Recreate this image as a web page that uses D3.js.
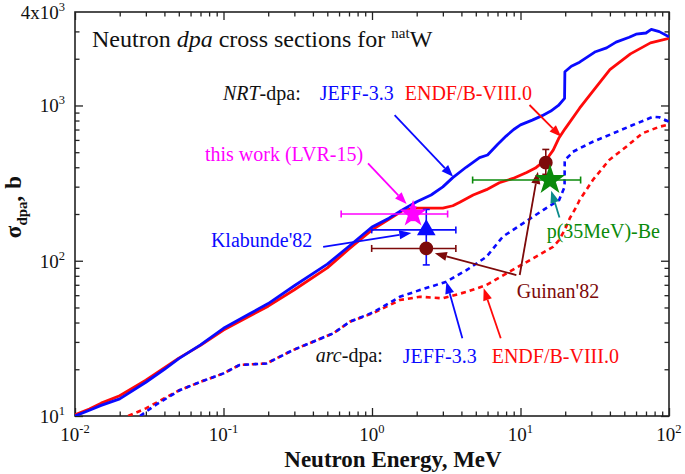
<!DOCTYPE html>
<html><head><meta charset="utf-8">
<script src="https://cdn.jsdelivr.net/npm/d3@7/dist/d3.min.js"></script>
<style>body{margin:0;background:#fff}svg{display:block;font-family:"Liberation Serif","Times New Roman",serif}</style>
</head><body><svg id="c" width="685" height="474"></svg>
<script>
// ---------- data (energy MeV, cross section b) ----------
const nrtJeff = [[0.01,10],[0.0125,10.9],[0.015,11.7],[0.02,12.9],[0.03,16.5],[0.04,20],[0.05,23.4],[0.07,28.7],[0.1,36.7],[0.15,45.5],[0.2,53],[0.3,69],[0.5,95],[0.7,124],[1,165],[1.3,188],[1.6,212],[2,240],[2.5,265],[3,299],[3.5,343],[4.3,400],[5.3,462],[6,480],[7,560],[8,635],[9,700],[10,750],[12,805],[14,860],[16,920],[18,1000],[19.8,1110],[19.9,1650],[22,1790],[25,1900],[32,2220],[38,2350],[44,2560],[54,2750],[60,2880],[70,2930],[76,3090],[86,2990],[100,2770]];
const nrtEndf = [[0.01,10.2],[0.0125,11.1],[0.015,12.1],[0.02,13.5],[0.03,17],[0.05,23.6],[0.07,28.5],[0.1,35.8],[0.2,51],[0.3,65],[0.5,90],[0.7,119],[1,158],[1.3,185],[1.6,210],[2,218],[2.5,218],[3,218],[3.5,226],[3.9,238],[4.8,265],[5.9,287],[7.2,318],[8.9,339],[11,370],[12.6,395],[14,428],[15.3,462],[16.6,516],[18.2,620],[20,710],[25,960],[30,1200],[40,1700],[55,2150],[75,2530],[100,2705]];
const arcJeff = [[0.0274,10],[0.035,11.8],[0.051,14.7],[0.07,16.6],[0.1,18.8],[0.128,21.3],[0.195,21.8],[0.294,26.6],[0.55,34.1],[0.71,40.5],[1.02,46.5],[1.54,58.6],[2.1,64.7],[3.17,73.3],[4.33,87],[5.9,106],[7.6,143],[10.4,174],[14.2,212],[18.2,246],[19.8,299],[19.85,445],[21.5,479],[22.5,503],[30.7,584],[42,661],[57,748],[78,846],[86,840],[100,785]];
const arcEndf = [[0.0228,10],[0.03,11.2],[0.05,14.6],[0.07,16.6],[0.1,18.8],[0.128,21.3],[0.195,21.8],[0.294,26.6],[0.55,34.1],[0.71,40.5],[1.02,46],[1.54,55.8],[2.1,58.6],[3.0,57.3],[4.33,63],[5.9,69.7],[8.45,85],[12.1,103.5],[16.6,123],[18.2,136],[20,160],[21.5,188],[23.8,223],[25,246],[30.7,331],[39.5,445],[51.5,542],[66,661],[86,729],[100,755]];

// experimental points: E, sigma, Emin, Emax, sMin, sMax
const thisWork = [[1.89,200,0.62,3.23,182,222]];
const klabunde = [[2.32,158,0.995,3.67,94,214]];
const guinan = [[2.32,120,0.995,3.67,null,null],[14.8,428,null,null,360,521]];
const p35Be = [[15.8,331,4.76,25.4,null,null]];

const xMajor = [0.01,0.1,1,10,100];
const xLabels = [["10","-2"],["10","-1"],["10","0"],["10","1"],["10","2"]];
const yMajor = [10,100,1000];
const yLabels = [["10","1"],["10","2"],["10","3"]];

// ---------- setup ----------
const svg = d3.select("#c");
const L=75,R=669,T=12,B=416;
const x = d3.scaleLog().domain([0.01,100]).range([L,R]);
const y = d3.scaleLog().domain([10,4000]).range([B,T]);
const BLUE="#0a0aff", RED="#ff0a0a", MAG="#ff00ff", MAROON="#7d0a0a", GREEN="#0a8a0a", TEAL="#0a8a8a";

svg.append("defs").selectAll("clipPath").data([0]).join("clipPath").attr("id","clip")
  .append("rect").attr("x",L).attr("y",T).attr("width",R-L).attr("height",B-T);

// minor ticks
const xMinor=[]; [0.01,0.1,1,10].forEach(d=>{for(let k=2;k<10;k++)xMinor.push(d*k)});
const yMinor=[]; [10,100,1000].forEach(d=>{for(let k=2;k<10;k++){if(d*k<4000)yMinor.push(d*k)}});

function drawAxis(axisFn, scale, vals, size, tr){
  const g=svg.append("g").attr("transform",tr).call(axisFn(scale).tickValues(vals).tickSize(size).tickFormat(""));
  g.select(".domain").remove();
  g.selectAll("line").attr("stroke","#222").attr("stroke-width",1.3);
}
drawAxis(d3.axisBottom,x,xMajor,-8,`translate(0,${B})`);
drawAxis(d3.axisBottom,x,xMinor,-4.5,`translate(0,${B})`);
drawAxis(d3.axisTop,x,xMajor,-8,`translate(0,${T})`);
drawAxis(d3.axisTop,x,xMinor,-4.5,`translate(0,${T})`);
drawAxis(d3.axisLeft,y,yMajor,-8,`translate(${L},0)`);
drawAxis(d3.axisLeft,y,yMinor,-4.5,`translate(${L},0)`);
drawAxis(d3.axisRight,y,yMajor,-8,`translate(${R},0)`);
drawAxis(d3.axisRight,y,yMinor,-4.5,`translate(${R},0)`);
svg.append("rect").attr("x",L).attr("y",T).attr("width",R-L).attr("height",B-T)
  .attr("fill","none").attr("stroke","#222").attr("stroke-width",1.6);

function supText(g, base, sup, fs){
  g.append("tspan").text(base);
  g.append("tspan").attr("font-size",fs*0.66).attr("dy",-fs*0.42).text(sup);
}
xMajor.forEach((v,i)=>{
  const t=svg.append("text").attr("x",x(v)).attr("y",441).attr("text-anchor","middle").attr("font-size",19).attr("fill","#111");
  supText(t,xLabels[i][0],xLabels[i][1],19);
});
yMajor.forEach((v,i)=>{
  const t=svg.append("text").attr("x",L-10).attr("y",y(v)+7).attr("text-anchor","end").attr("font-size",19).attr("fill","#111");
  supText(t,yLabels[i][0],yLabels[i][1],19);
});
{const t=svg.append("text").attr("x",L-10).attr("y",y(4000)+7).attr("text-anchor","end").attr("font-size",19).attr("fill","#111");
 supText(t,"4x10","3",19);}

// axis titles
svg.append("text").attr("x",393).attr("y",467).attr("text-anchor","middle").attr("font-size",23).attr("font-weight","bold").attr("fill","#111").text("Neutron Energy, MeV");
{const t=svg.append("text").attr("transform","translate(21,207) rotate(-90)").attr("text-anchor","middle").attr("font-size",23).attr("font-weight","bold").attr("fill","#111");
 t.append("tspan").text("σ");
 t.append("tspan").attr("font-size",15).attr("dy",6).text("dpa");
 t.append("tspan").attr("dy",-6).text(",");
 t.append("tspan").attr("dx",7).text("b");}

// title
{const t=svg.append("text").attr("x",92).attr("y",47).attr("font-size",24).attr("fill","#111");
 t.append("tspan").text("Neutron ");
 t.append("tspan").attr("font-style","italic").text("dpa");
 t.append("tspan").text(" cross sections for ");
 t.append("tspan").attr("font-size",15).attr("dy",-9).text("nat");
 t.append("tspan").attr("dy",9).text("W");}

// ---------- curves ----------
const line = d3.line().x(d=>x(d[0])).y(d=>y(d[1]));
const plot = svg.append("g").attr("clip-path","url(#clip)");
[[arcEndf,RED],[arcJeff,BLUE]].forEach(([d,c])=>{
  plot.append("path").attr("d",line(d)).attr("fill","none").attr("stroke",c).attr("stroke-width",2.6).attr("stroke-dasharray","5,4");
});
[[nrtEndf,RED],[nrtJeff,BLUE]].forEach(([d,c])=>{
  plot.append("path").attr("d",line(d)).attr("fill","none").attr("stroke",c).attr("stroke-width",2.8).attr("stroke-linejoin","round");
});

// ---------- arrows ----------
function arrow(e0,s0,e1,s1,c){
  const x0=x(e0),y0=y(s0),x1=x(e1),y1=y(s1);
  const a=Math.atan2(y1-y0,x1-x0), hl=12, hw=4.5;
  const bx=x1-hl*Math.cos(a), by=y1-hl*Math.sin(a);
  svg.append("line").attr("x1",x0).attr("y1",y0).attr("x2",bx).attr("y2",by).attr("stroke",c).attr("stroke-width",1.8);
  svg.append("path").attr("d",`M${x1},${y1}L${bx+hw*Math.sin(a)},${by-hw*Math.cos(a)}L${bx-hw*Math.sin(a)},${by+hw*Math.cos(a)}Z`).attr("fill",c);
}
arrow(1.42,867,3.52,347,BLUE);
arrow(11.5,1007,18.8,628,RED);
arrow(0.94,424,1.71,232,MAG);
arrow(0.469,123,1.84,151,BLUE);
arrow(9.38,80.9,2.65,111.7,MAROON);
arrow(9.88,80.9,13.1,374,MAROON);
arrow(18.3,190,16.1,282,TEAL);
arrow(4.06,31.7,3.17,73.3,BLUE);
arrow(7.36,31.7,5.65,66.4,RED);

// ---------- error bars & markers ----------
function errbars(data,c){
  data.forEach(d=>{
    const cx=x(d[0]), cy=y(d[1]);
    if(d[2]!=null){
      svg.append("line").attr("x1",x(d[2])).attr("x2",x(d[3])).attr("y1",cy).attr("y2",cy).attr("stroke",c).attr("stroke-width",1.6);
      [d[2],d[3]].forEach(v=>svg.append("line").attr("x1",x(v)).attr("x2",x(v)).attr("y1",cy-3.5).attr("y2",cy+3.5).attr("stroke",c).attr("stroke-width",1.6));
    }
    if(d[4]!=null){
      svg.append("line").attr("x1",cx).attr("x2",cx).attr("y1",y(d[4])).attr("y2",y(d[5])).attr("stroke",c).attr("stroke-width",1.6);
      [d[4],d[5]].forEach(v=>svg.append("line").attr("x1",cx-3.5).attr("x2",cx+3.5).attr("y1",y(v)).attr("y2",y(v)).attr("stroke",c).attr("stroke-width",1.6));
    }
  });
}
function markers(data,type,size,c){
  svg.selectAll(null).data(data).join("path")
    .attr("d",d3.symbol().type(type).size(size))
    .attr("transform",d=>`translate(${x(d[0])},${y(d[1])})`).attr("fill",c);
}
errbars(guinan,MAROON); errbars(klabunde,BLUE); errbars(thisWork,MAG); errbars(p35Be,GREEN);
markers(guinan,d3.symbolCircle,150,MAROON);
markers(klabunde,d3.symbolTriangle,150,BLUE);
markers(thisWork,d3.symbolStar,230,MAG);
markers(p35Be,d3.symbolStar,290,GREEN);

// ---------- labels ----------
function label(e,s,parts,c){
  const t=svg.append("text").attr("x",x(e)).attr("y",y(s)).attr("font-size",20).attr("fill",c);
  parts.forEach(p=>{const ts=t.append("tspan").text(p[0]); if(p[1])ts.attr("font-style","italic");});
}
label(0.0991,1084,[["NRT",1],["-dpa:"]],"#111");
label(0.4453,1084,[["JEFF-3.3"]],BLUE);
label(1.662,1084,[["ENDF/B-VIII.0"]],RED);
label(0.075,438,[["this work (LVR-15)"]],MAG);
label(0.0823,122.5,[["Klabunde'82"]],BLUE);
label(9.43,57.5,[["Guinan'82"]],MAROON);
label(15.0,140,[["p(35MeV)-Be"]],GREEN);
label(0.4185,22.3,[["arc",1],["-dpa:"]],"#111");
label(1.612,21.9,[["JEFF-3.3"]],BLUE);
label(6.40,21.9,[["ENDF/B-VIII.0"]],RED);
</script></body></html>
